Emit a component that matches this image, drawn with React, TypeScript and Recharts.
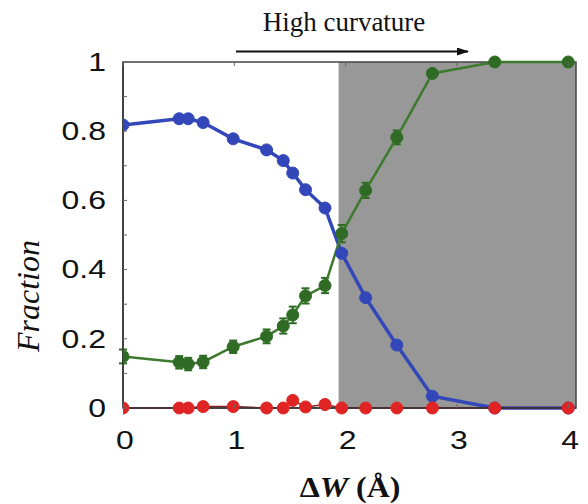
import React from "react";
import { LineChart, Line, XAxis, YAxis, ReferenceArea, ErrorBar } from "recharts";

const dW = [0, 0.505, 0.586, 0.72, 0.99, 1.29, 1.44, 1.525, 1.64, 1.815, 1.965, 2.18, 2.46, 2.78, 3.34, 4];
const blueFrac = [0.818, 0.836, 0.836, 0.825, 0.778, 0.746, 0.715, 0.679, 0.631, 0.578, 0.447, 0.319, 0.182, 0.034, 0, 0];
const greenFrac = [0.149, 0.132, 0.127, 0.133, 0.177, 0.207, 0.237, 0.269, 0.324, 0.354, 0.504, 0.629, 0.782, 0.967, 1.0, 1.0];
const greenErr = [0.02, 0.018, 0.018, 0.018, 0.018, 0.02, 0.022, 0.024, 0.022, 0.022, 0.025, 0.022, 0.02, 0, 0, 0];
const redFrac = [0, 0, 0, 0.004, 0.004, 0, 0, 0.022, 0.003, 0.01, 0, 0, 0, 0, 0, 0];

const xTicks = [0, 1, 2, 3, 4];
const yTicks = [0, 0.1, 0.2, 0.3, 0.4, 0.5, 0.6, 0.7, 0.8, 0.9, 1];
const yTickLabels = ["0", "", "0.2", "", "0.4", "", "0.6", "", "0.8", "", "1"];
const xDomain = [0, 4.07];
const shadeStart = 1.937;

const data = dW.map((x, i) => ({
  x,
  blue: blueFrac[i],
  green: greenFrac[i],
  gErr: greenErr[i],
  red: redFrac[i],
}));

const W = 580;
const H = 496;
const M = { top: 54, right: 12, left: 0, bottom: 1 };
const Y_W = 115;
const X_H = 95;
const PLOT_BOTTOM = H - M.bottom - X_H;
const PLOT_TOP = M.top;

const sans = "'Liberation Sans', Arial, Helvetica, sans-serif";
const serif = "'Liberation Serif', 'Times New Roman', serif";
const STRETCH = 1.28;

const YTick = (props: any) => {
  const { y, index } = props;
  const lbl = yTickLabels[index] ?? "";
  const tx = Y_W - 17;
  return (
    <g>
      <line x1={Y_W} x2={Y_W + 4} y1={y} y2={y} stroke="#666" strokeWidth={1} />
      {lbl && (
        <text
          transform={`translate(${tx},${y}) scale(${STRETCH},1)`}
          x={0}
          y={0}
          textAnchor="end"
          dominantBaseline="central"
          fontFamily={sans}
          fontSize={25}
          fill="#111"
        >
          {lbl}
        </text>
      )}
    </g>
  );
};

const XTick = (props: any) => {
  const { x, payload } = props;
  const ty = PLOT_BOTTOM + 32;
  return (
    <g>
      <line x1={x} x2={x} y1={PLOT_BOTTOM} y2={PLOT_BOTTOM - 4} stroke="#666" strokeWidth={1} />
      <line x1={x} x2={x} y1={PLOT_TOP} y2={PLOT_TOP + 4} stroke="#666" strokeWidth={1} />
      <text
        transform={`translate(${x + 2},${ty}) scale(${STRETCH},1)`}
        x={0}
        y={0}
        textAnchor="middle"
        dominantBaseline="central"
        fontFamily={sans}
        fontSize={25}
        fill="#111"
      >
        {payload.value}
      </text>
    </g>
  );
};

export default function App() {
  return (
    <div style={{ position: "relative", width: W, height: H }}>
      <LineChart width={W} height={H} data={data} margin={M}>
        <XAxis
          dataKey="x"
          type="number"
          domain={xDomain}
          ticks={xTicks}
          tick={<XTick />}
          tickLine={false}
          axisLine={{ stroke: "#333", strokeWidth: 1.5 }}
          height={X_H}
          allowDataOverflow
        />
        <YAxis
          type="number"
          domain={[0, 1]}
          ticks={yTicks}
          tick={<YTick />}
          tickLine={false}
          axisLine={{ stroke: "#333", strokeWidth: 1.5 }}
          width={Y_W}
          interval={0}
        />
        <ReferenceArea x1={shadeStart} x2={xDomain[1]} y1={0} y2={1} fill="#989898" fillOpacity={1} stroke="none" />
        <ReferenceArea x1={xDomain[0]} x2={xDomain[1]} y1={0} y2={1} fill="none" fillOpacity={0} stroke="#444" strokeWidth={1.5} />
        <Line
          dataKey="blue"
          stroke="#3347b8"
          strokeWidth={3.5}
          dot={{ r: 6, fill: "#3347b8", stroke: "#3347b8", strokeWidth: 1 }}
          isAnimationActive={false}
        />
        <Line
          dataKey="green"
          stroke="#3d7a2e"
          strokeWidth={2.5}
          dot={{ r: 6, fill: "#2f6b24", stroke: "#2f6b24", strokeWidth: 1 }}
          isAnimationActive={false}
        >
          <ErrorBar dataKey="gErr" width={4} stroke="#2f6b24" strokeWidth={2} direction="y" />
        </Line>
        <Line
          dataKey="red"
          stroke="#8b2020"
          strokeWidth={1.5}
          dot={{ r: 6, fill: "#e02424", stroke: "#e02424", strokeWidth: 1 }}
          isAnimationActive={false}
        />
      </LineChart>
      <svg width={588} height={504} style={{ position: "absolute", left: -8, top: -8, pointerEvents: "none" }}>
        <defs>
          <marker id="arrowHead" markerWidth="12" markerHeight="8" refX="11" refY="4" orient="auto" markerUnits="userSpaceOnUse">
            <path d="M0,0 L12,4 L0,8 z" fill="#111" />
          </marker>
        </defs>
        <text x={344} y={31} textAnchor="middle" fontFamily={serif} fontSize={27} fill="#111">
          High curvature
        </text>
        <line x1={236} x2={468} y1={51.5} y2={51.5} stroke="#111" strokeWidth={2} markerEnd="url(#arrowHead)" />
        <text
          x={28}
          y={296}
          transform="rotate(-90 28 296)"
          textAnchor="middle"
          dominantBaseline="central"
          fontFamily={serif}
          fontStyle="italic"
          fontSize={32}
          fill="#111"
        >
          Fraction
        </text>
        <text
          transform="translate(350,497) scale(1.1,1)"
          x={0}
          y={0}
          textAnchor="middle"
          fontFamily={serif}
          fontWeight="bold"
          fontSize={29}
          fill="#111"
        >
          Δ<tspan fontStyle="italic">W</tspan> (Å)
        </text>
      </svg>
    </div>
  );
}
